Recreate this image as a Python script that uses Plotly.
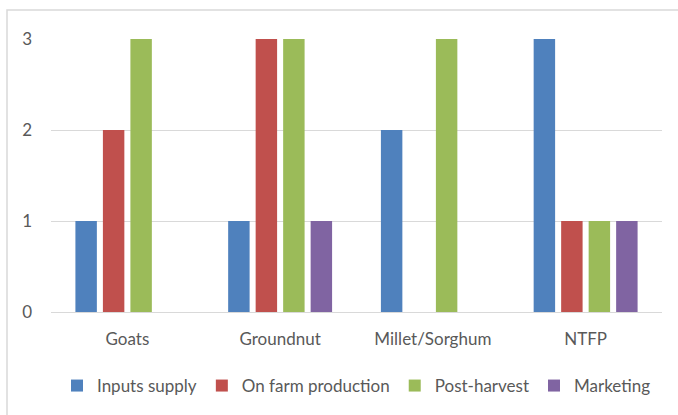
import plotly.graph_objects as go

categories = ["Goats", "Groundnut", "Millet/Sorghum", "NTFP"]
series_names = ["Inputs supply", "On farm production", "Post-harvest", "Marketing"]
inputs_supply = [1, 1, 2, 3]
on_farm_production = [2, 3, 0, 1]
post_harvest = [3, 3, 3, 1]
marketing = [0, 1, 0, 1]
y_ticks = [0, 1, 2, 3]

colors = ["#4F81BD", "#C0504D", "#9BBB59", "#8064A2"]
values = [inputs_supply, on_farm_production, post_harvest, marketing]

FONT = "Lato"
FS = 17
W, H = 678, 415
ml, mr, mt, mb = 51, 16, 39, 102

fig = go.Figure()
for name, vals, c in zip(series_names, values, colors):
    fig.add_trace(go.Bar(name=name, x=categories, y=vals, marker=dict(color=c, line=dict(width=0))))

pw = W - ml - mr
ph = H - mt - mb
def px2x(p):
    return (p - ml) / pw
def py2y(p):
    return (H - mb - p) / ph

fig.update_layout(
    width=W, height=H,
    margin=dict(l=ml, r=mr, t=mt, b=mb, pad=0),
    barmode="group", bargap=0.28, bargroupgap=0.22,
    plot_bgcolor="white", paper_bgcolor="white",
    font=dict(family=FONT, size=FS, color="#595959"),
    showlegend=True,
    legend=dict(orientation="h", x=0.5, xanchor="center", y=py2y(386), yanchor="middle",
                itemwidth=30,
                font=dict(family=FONT, size=FS, color="#595959"), traceorder="normal"),
    xaxis=dict(showgrid=False, showline=True, linecolor="#D9D9D9", linewidth=1,
               ticks="", ticklabelstandoff=12,
               tickfont=dict(size=FS, color="#595959"), fixedrange=True),
    yaxis=dict(range=[0, 3], tickvals=y_ticks, showgrid=True, gridcolor="#D9D9D9", gridwidth=1,
               zeroline=False, showline=False, ticks="", ticklabelstandoff=18,
               tickfont=dict(size=FS, color="#595959"), fixedrange=True),
    shapes=[dict(type="rect", xref="paper", yref="paper",
                 x0=px2x(7), x1=px2x(690), y0=py2y(430), y1=py2y(10),
                 line=dict(color="#D9D9D9", width=1.5), fillcolor="rgba(0,0,0,0)", layer="below")],
)

fig.write_html("out.html")
